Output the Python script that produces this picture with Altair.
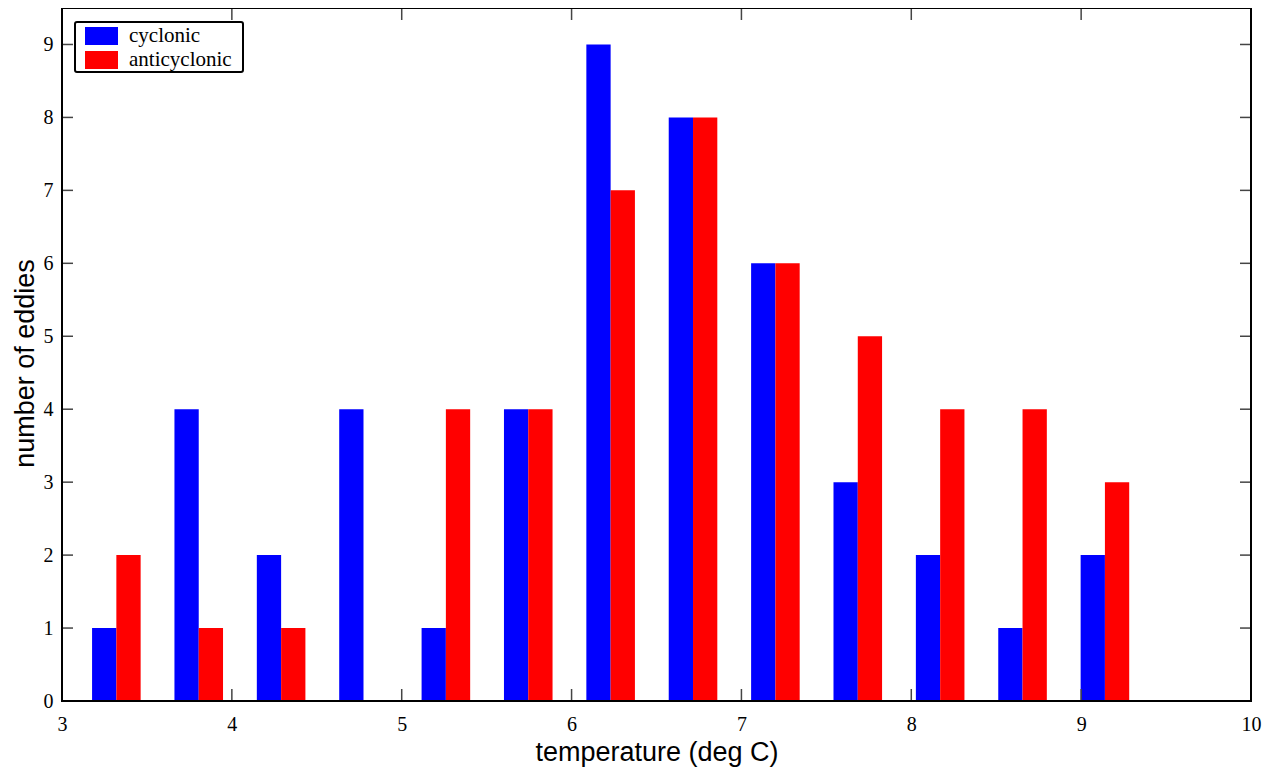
import altair as alt
import pandas as pd

# ---- data ----
series_names = ["cyclonic", "anticyclonic"]
series_colors = ["#0000ff", "#ff0000"]
bin_centers = [3.32, 3.805, 4.29, 4.775, 5.26, 5.745, 6.23, 6.715, 7.2, 7.685, 8.17, 8.655, 9.14]
cyclonic = [1, 4, 2, 4, 1, 4, 9, 8, 6, 3, 2, 1, 2]
anticyclonic = [2, 1, 1, 0, 4, 4, 7, 8, 6, 5, 4, 4, 3]
x_ticks = [3, 4, 5, 6, 7, 8, 9, 10]
y_ticks = [0, 1, 2, 3, 4, 5, 6, 7, 8, 9]

W, H = 1189, 693
bar_w = 0.143  # width of one bar in data units

rows = []
for c, a, b in zip(bin_centers, cyclonic, anticyclonic):
    rows.append({"series": "cyclonic", "x0": c - bar_w, "x1": c, "n": a})
    rows.append({"series": "anticyclonic", "x0": c, "x1": c + bar_w, "n": b})
bars_df = pd.DataFrame(rows)

xscale = alt.Scale(domain=[3, 10], nice=False, zero=False)
yscale = alt.Scale(domain=[0, 9.5], nice=False)

serif = "Liberation Serif"
sans = "Liberation Sans"

bars = alt.Chart(bars_df).mark_rect(stroke=None).encode(
    x=alt.X("x0:Q", scale=xscale,
            axis=alt.Axis(values=x_ticks, format="d", title="temperature (deg C)",
                          tickSize=0, domain=False, grid=False, labelFlush=False,
                          labelFont=serif, labelFontSize=20, labelPadding=13,
                          labelColor="black",
                          titleFont=sans, titleFontSize=27, titleFontWeight="normal",
                          titleBaseline="middle", titleY=51, titleColor="black")),
    x2="x1:Q",
    y=alt.Y("n:Q", scale=yscale,
            axis=alt.Axis(values=y_ticks, format="d", title="number of eddies",
                          tickSize=0, domain=False, grid=False, labelFlush=False,
                          labelFont=serif, labelFontSize=20, labelPadding=9,
                          labelColor="black",
                          titleFont=sans, titleFontSize=27, titleFontWeight="normal",
                          titleBaseline="middle", titleX=-37, titleY=355,
                          titleColor="black")),
    y2=alt.datum(0),
    color=alt.Color("series:N", scale=alt.Scale(domain=series_names, range=series_colors),
                    legend=None),
)

ytick_df = pd.DataFrame({"v": y_ticks})
xtick_df = pd.DataFrame({"v": x_ticks})
tick_color = "#444444"

yt_left = alt.Chart(ytick_df).mark_rule(color=tick_color, strokeWidth=1.5).encode(
    y=alt.Y("v:Q", scale=yscale), x=alt.value(0), x2=alt.value(11))
yt_right = alt.Chart(ytick_df).mark_rule(color=tick_color, strokeWidth=1.5).encode(
    y=alt.Y("v:Q", scale=yscale), x=alt.value(W - 11), x2=alt.value(W))
xt_bot = alt.Chart(xtick_df).mark_rule(color=tick_color, strokeWidth=1.5).encode(
    x=alt.X("v:Q", scale=xscale), y=alt.value(H - 12), y2=alt.value(H))
xt_top = alt.Chart(xtick_df).mark_rule(color=tick_color, strokeWidth=1.5).encode(
    x=alt.X("v:Q", scale=xscale), y=alt.value(0), y2=alt.value(12))

one = alt.Data(values=[{"k": 1}])

frame = alt.Chart(one).mark_rect(fill=None, stroke="black", strokeWidth=2).encode(
    x=alt.value(0), x2=alt.value(W), y=alt.value(0), y2=alt.value(H))

# legend
leg_box = alt.Chart(one).mark_rect(fill="white", stroke="black", strokeWidth=2,
                                   cornerRadius=2).encode(
    x=alt.value(13), x2=alt.value(181), y=alt.value(14), y2=alt.value(64))
leg_layers = [leg_box]
for i, (name, col) in enumerate(zip(series_names, series_colors)):
    y0 = 19 + i * 24
    leg_layers.append(alt.Chart(one).mark_rect(fill=col).encode(
        x=alt.value(23), x2=alt.value(56), y=alt.value(y0), y2=alt.value(y0 + 18)))
    leg_layers.append(alt.Chart(one).mark_text(
        align="left", baseline="middle", font=serif, fontSize=21, color="black",
        text=name).encode(x=alt.value(67), y=alt.value(y0 + 9)))

chart = alt.layer(bars, yt_left, yt_right, xt_bot, xt_top, frame, *leg_layers).properties(
    width=W, height=H,
    autosize=alt.AutoSizeParams(type="none"),
    padding={"left": 54, "top": 0, "right": 14, "bottom": 70},
).configure_view(stroke=None).configure(background="white")

chart.save("out.html", embed_options={"renderer": "svg", "actions": False})
